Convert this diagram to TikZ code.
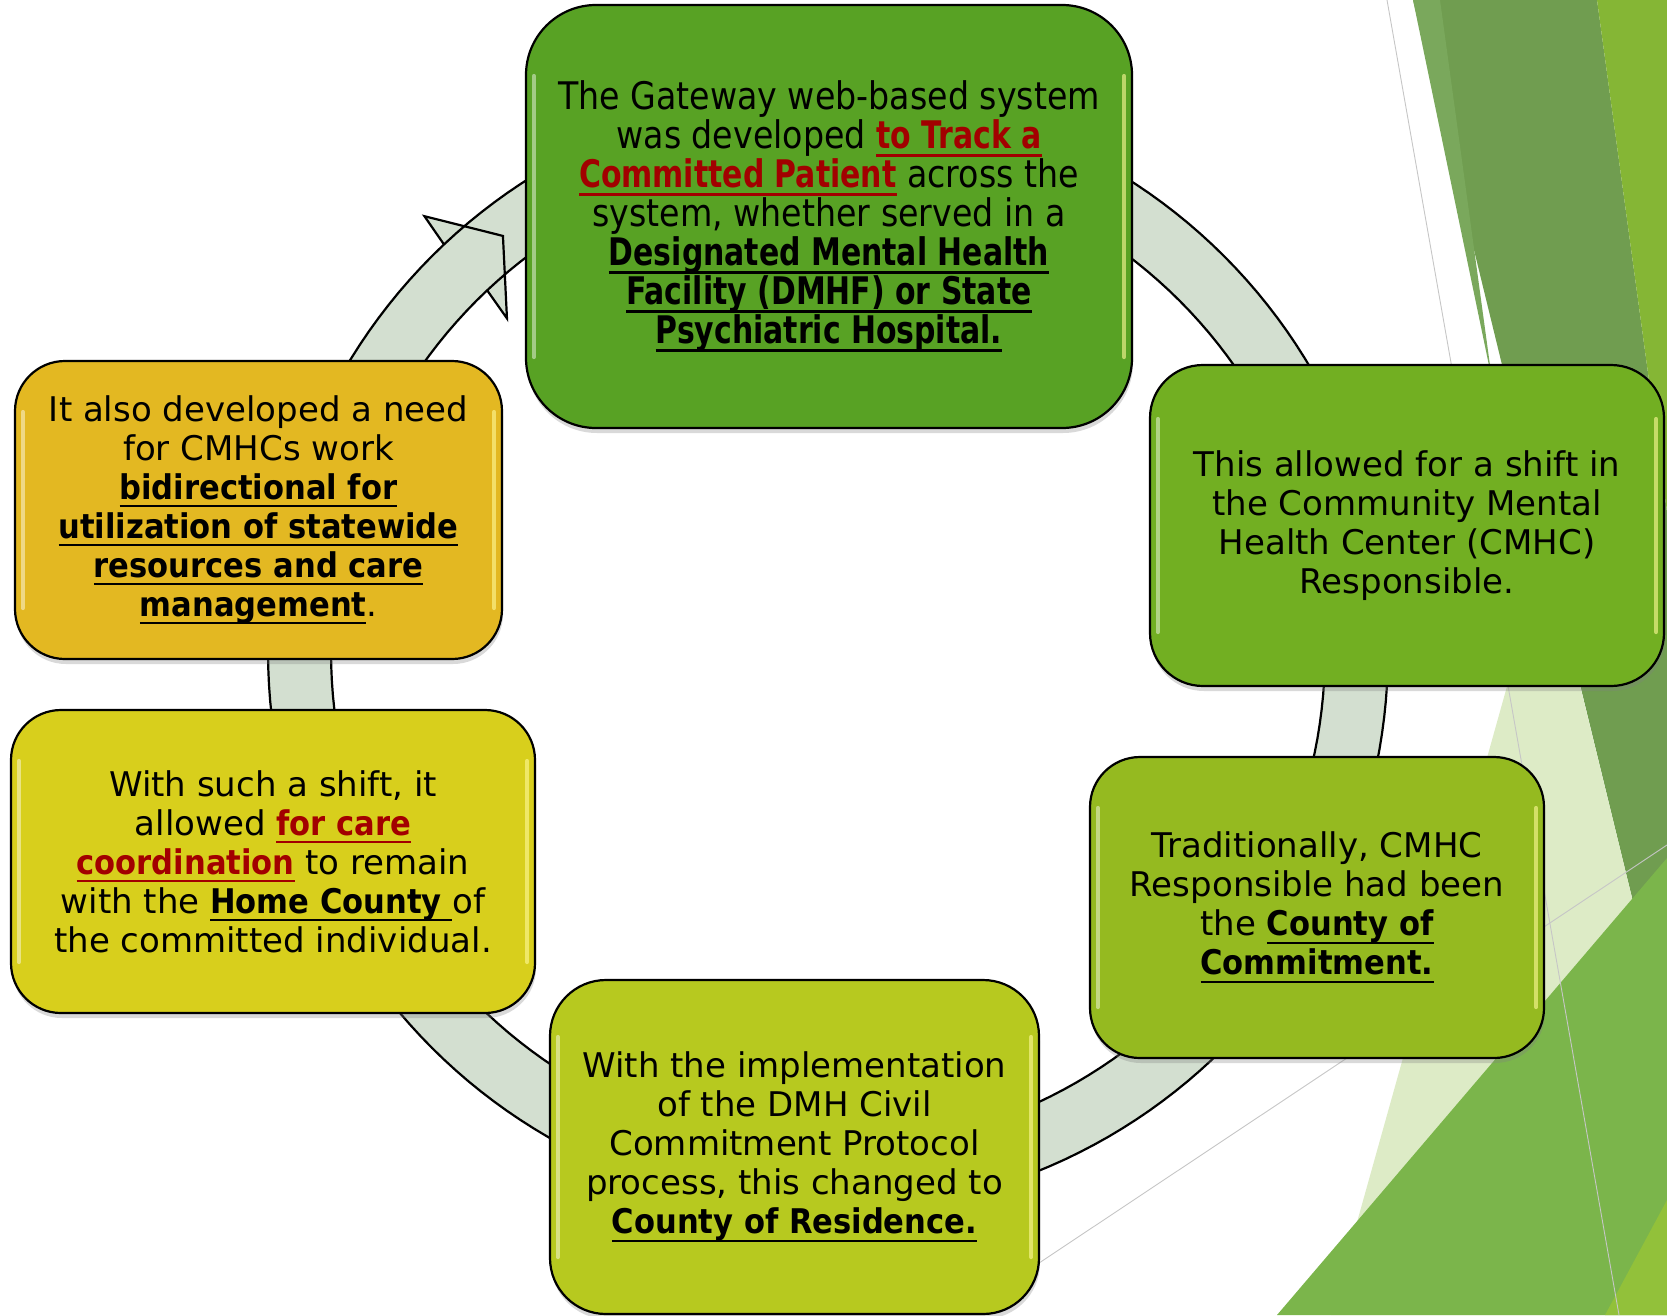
\documentclass[tikz,border=0pt]{standalone}
\usepackage{fontspec}
\setmainfont{DejaVu Sans}[BoldFont={DejaVu Sans Condensed Bold}]
\newfontfamily\gwfont{DejaVu Sans}[FakeStretch=0.875, BoldFont={DejaVu Sans Condensed Bold}]
\usetikzlibrary{shadows}
\definecolor{cA}{RGB}{88,162,36}
\definecolor{cB}{RGB}{114,175,34}
\definecolor{cC}{RGB}{149,186,32}
\definecolor{cD}{RGB}{183,201,31}
\definecolor{cE}{RGB}{216,207,28}
\definecolor{cF}{RGB}{227,184,34}
\definecolor{ringc}{RGB}{211,223,208}
\definecolor{txtred}{RGB}{162,0,0}
\definecolor{bgdark}{RGB}{112,157,80}
\definecolor{bgdarkl}{RGB}{122,168,92}
\definecolor{bgbright}{RGB}{133,182,53}
\definecolor{bglight}{RGB}{221,235,198}
\definecolor{bgmid}{RGB}{123,181,75}
\definecolor{bglime}{RGB}{146,193,58}
\newcommand\myul[1]{\setbox0\hbox{#1}\leavevmode\rlap{\rule[-8pt]{\wd0}{2.4pt}}\box0}
\newcommand\redul[1]{{\color{txtred}\myul{\textbf{#1}}}}
\newcommand\bul[1]{\myul{\textbf{#1}}}
\tikzset{
  stagebox/.style={draw=black, line width=2.2pt, rounded corners=#1, align=center,
    inner sep=0pt, font=\fontsize{34}{39}\selectfont,
    drop shadow={shadow xshift=1pt, shadow yshift=-5pt, opacity=0.3}},
  hlL/.style={white, opacity=0.45, line width=4pt, line cap=round},
  hlR/.style={yellow!40!white, opacity=0.6, line width=4pt, line cap=round},
  ringshape/.style={fill=ringc, draw=black, line width=2.2pt},
  bgline/.style={gray!45, line width=0.9pt}
}
\newcommand\gloss[2]{%
  \draw[hlL] ([xshift=9pt,yshift=-#2]#1.north west) -- ([xshift=9pt,yshift=#2]#1.south west);
  \draw[hlR] ([xshift=-9pt,yshift=-#2]#1.north east) -- ([xshift=-9pt,yshift=#2]#1.south east);}
\begin{document}
\begin{tikzpicture}[x=1pt,y=-1pt]
\useasboundingbox (0,0) rectangle (1667,1315);
% background facets
\begin{scope}
\clip (0,0) rectangle (1667,1315);
\fill[bgdark] (1413,0) -- (1597,0) -- (1667,512) -- (1667,1041) -- cycle;
\fill[bgdarkl] (1413,0) -- (1440,0) -- (1492,380) -- cycle;
\fill[bgbright] (1597,0) -- (1667,0) -- (1667,512) -- cycle;
\fill[bglight] (1331,1315) -- (1546,547) -- (1667,1041) -- (1667,1315) -- cycle;
\fill[bgmid] (1277,1315) -- (1667,858) -- (1667,1315) -- cycle;
\fill[bglime] (1605,1315) -- (1667,1200) -- (1667,1315) -- cycle;
\draw[bgline] (1387,0) -- (1619,1315);
\draw[bgline] (1000,1289) -- (1667,845);
\end{scope}
% circular arrow
\filldraw[ringshape]
  plot[domain=133.3:-265,samples=240,variable=\t] ({828+497*cos(\t)},{652-497*sin(\t)})
  -- plot[domain=-265:133.3,samples=240,variable=\t] ({828+560*cos(\t)},{652-560*sin(\t)})
  -- ({828+594*cos(132.8)},{652-594*sin(132.8)})
  -- ({828+528*cos(128)},{652-528*sin(128)})
  -- ({828+463*cos(133.9)},{652-463*sin(133.9)}) -- cycle;
% boxes
\node[stagebox=70pt, fill=cA, minimum width=606pt, minimum height=423pt,
      font=\gwfont\fontsize{38}{39}\selectfont] (n1) at (829,216.5)
 {The Gateway web-based system\\
  was developed \redul{to Track a}\\
  \redul{Committed Patient} across the\\
  system, whether served in a\\
  \bul{Designated Mental Health}\\
  \bul{Facility (DMHF) or State}\\
  \bul{Psychiatric Hospital.}};
\node[stagebox=53pt, fill=cB, minimum width=514pt, minimum height=321pt] (n2) at (1407,525.5)
 {This allowed for a shift in\\
  the Community Mental\\
  Health Center (CMHC)\\
  Responsible.};
\node[stagebox=50pt, fill=cC, minimum width=454pt, minimum height=301pt] (n3) at (1317,907.5)
 {Traditionally, CMHC\\
  Responsible had been\\
  the \bul{County of}\\
  \bul{Commitment.}};
\node[stagebox=56pt, fill=cD, minimum width=489pt, minimum height=334pt] (n4) at (794.5,1147)
 {With the implementation\\
  of the DMH Civil\\
  Commitment Protocol\\
  process, this changed to\\
  \bul{County of Residence.}};
\node[stagebox=50pt, fill=cE, minimum width=524pt, minimum height=303pt] (n5) at (273,861.5)
 {With such a shift, it\\
  allowed \redul{for care}\\
  \redul{coordination} to remain\\
  with the \bul{Home County\ }of\\
  the committed individual.};
\node[stagebox=50pt, fill=cF, minimum width=487pt, minimum height=298pt] (n6) at (258.5,510)
 {It also developed a need\\
  for CMHCs work\\
  \bul{bidirectional for}\\
  \bul{utilization of statewide}\\
  \bul{resources and care}\\
  \bul{management}.};
\gloss{n1}{72pt}
\gloss{n2}{55pt}
\gloss{n3}{52pt}
\gloss{n4}{58pt}
\gloss{n5}{52pt}
\gloss{n6}{52pt}
\end{tikzpicture}
\end{document}
